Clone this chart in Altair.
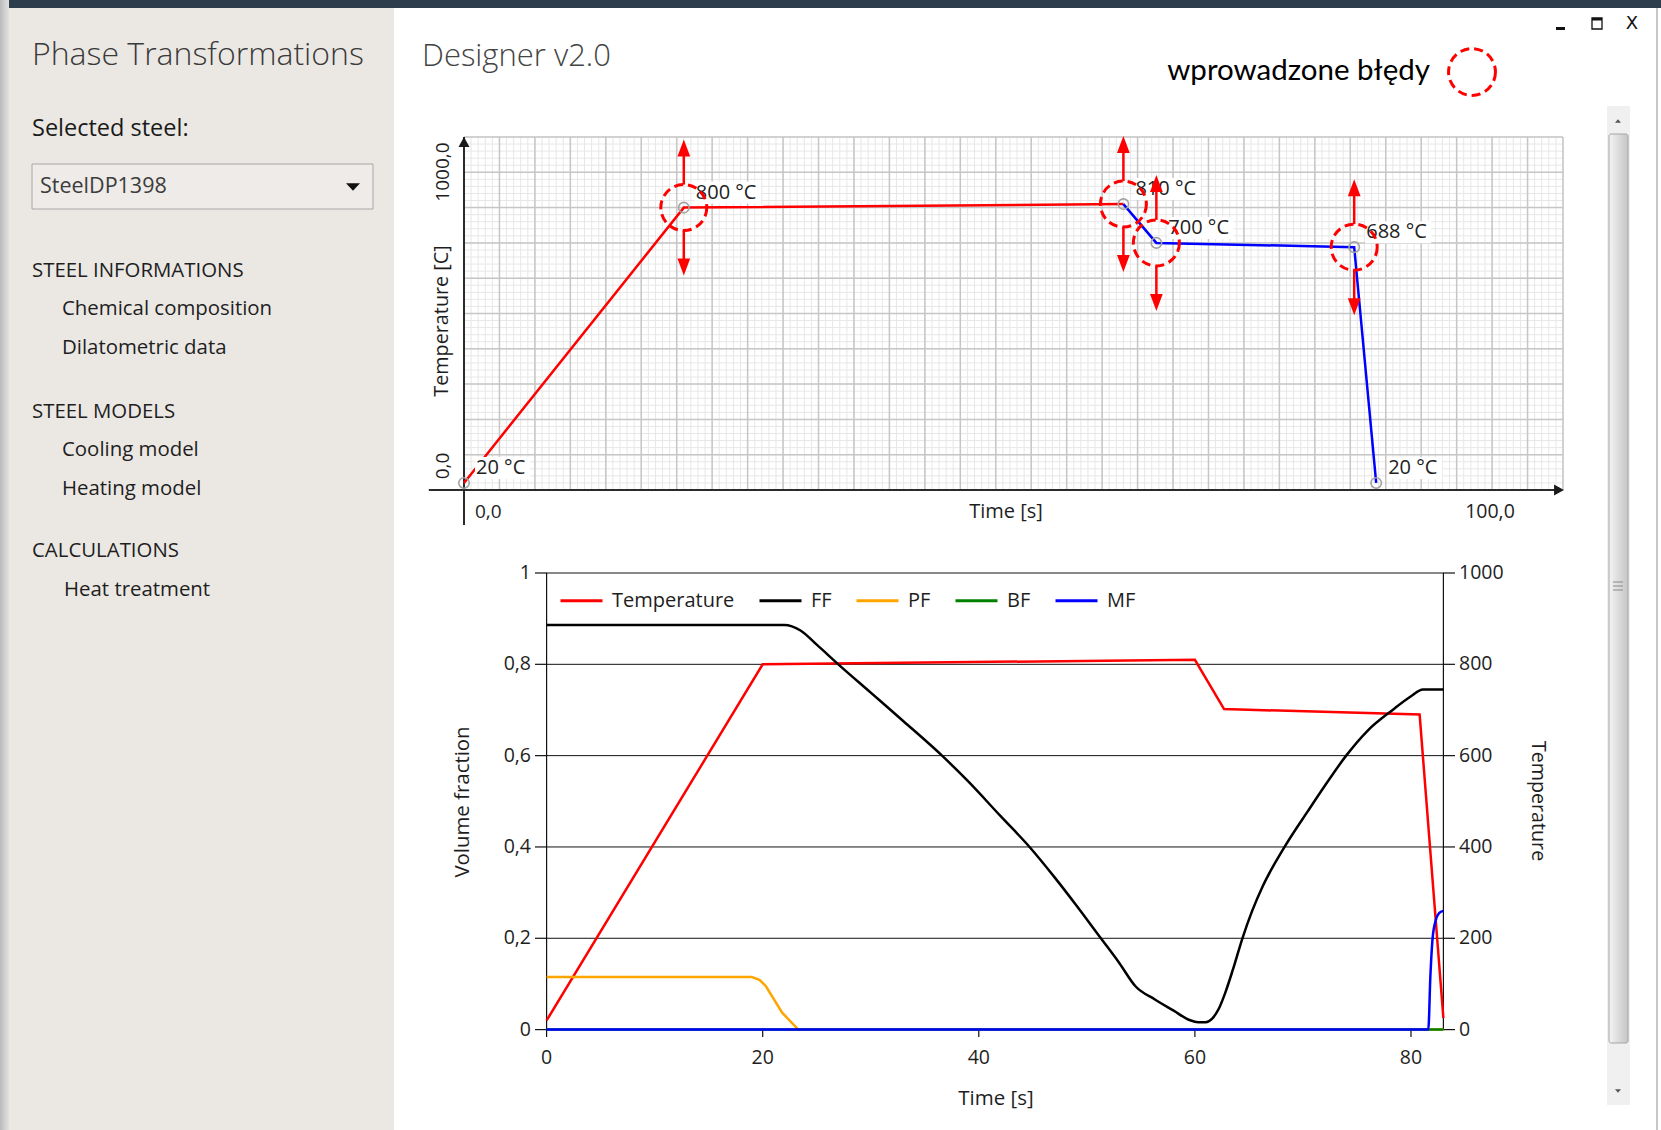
import altair as alt
import pandas as pd

FONT = "Open Sans"
INK = "#1e1e1e"

# ----------------------------------------------------------------- data ----
# Designer chart: heat-treatment schedule nodes (time [s], temperature [C])
sched_time = [0, 20, 60, 63, 81, 83]
sched_temp = [20, 800, 810, 700, 688, 20]
sched_labels = ["20 °C", "800 °C", "810 °C", "700 °C", "688 °C", "20 °C"]
heating_nodes = [0, 1, 2]        # red part of the schedule
cooling_nodes = [2, 3, 4, 5]     # blue part of the schedule
error_nodes = [1, 2, 3, 4]       # nodes marked as introduced errors

# Results chart: temperature (right axis)
temp_time = [0, 20, 60, 62.7, 80.8, 83.0]
temp_value = [20, 800, 810, 702, 690, 25]

# Results chart: volume fractions (left axis)
ff_time = [0, 22.0, 23.5, 25.0, 27.0, 30.0, 33.0, 36.6, 39.0, 42.0, 44.7,
           47.0, 49.0, 51.3, 53.0, 54.5, 56.3, 58.0, 59.5, 60.3, 61.0, 61.6,
           62.2, 62.8, 63.5, 64.4, 65.3, 66.3, 68.3, 70.5, 72.2, 74.0, 76.0,
           78.3, 80.0, 81.1, 83.0]
ff_value = [0.886, 0.886, 0.874, 0.843, 0.800, 0.738, 0.676, 0.600, 0.544,
            0.468, 0.400, 0.334, 0.273, 0.200, 0.146, 0.095, 0.066, 0.042,
            0.021, 0.016, 0.016, 0.024, 0.045, 0.080, 0.130, 0.200, 0.260,
            0.315, 0.400, 0.480, 0.540, 0.600, 0.655, 0.700, 0.730, 0.745,
            0.745]
pf_time = [0, 19.0, 19.7, 20.3, 21.8, 23.3, 83.0]
pf_value = [0.115, 0.115, 0.109, 0.095, 0.037, 0.0, 0.0]
bf_time = [0, 83.0]
bf_value = [0.0, 0.0]
mf_time = [0, 81.6, 81.8, 82.0, 82.3, 82.6, 83.0]
mf_value = [0.0, 0.0, 0.12, 0.20, 0.24, 0.255, 0.26]

series_names = ["Temperature", "FF", "PF", "BF", "MF"]
series_colors = ["#ff0000", "#000000", "#ffa500", "#008000", "#0000ff"]

# tick values / labels of the results chart
frac_ticks = [0, 0.2, 0.4, 0.6, 0.8, 1.0]
frac_tick_labels = ["0", "0,2", "0,4", "0,6", "0,8", "1"]
temp_ticks = [0, 200, 400, 600, 800, 1000]
temp_tick_labels = ["0", "200", "400", "600", "800", "1000"]
time_ticks = [0, 20, 40, 60, 80]
time_tick_labels = ["0", "20", "40", "60", "80"]

# sidebar texts
sidebar_sections = ["STEEL INFORMATIONS", "STEEL MODELS", "CALCULATIONS"]
sidebar_items = [["Chemical composition", "Dilatometric data"],
                 ["Cooling model", "Heating model"],
                 ["Heat treatment"]]

# ---------------------------------------------------------------- scales ---
top_x = alt.Scale(domain=[0, 100], range=[464, 1563], nice=False, zero=False)
top_y = alt.Scale(domain=[0, 1000], range=[490, 137], nice=False, zero=False)
bot_x = alt.Scale(domain=[0, 83], range=[546.6, 1443.4], nice=False, zero=False)
bot_yf = alt.Scale(domain=[0, 1], range=[1029.6, 573], nice=False, zero=False)
bot_yt = alt.Scale(domain=[0, 1000], range=[1029.6, 573], nice=False, zero=False)
color_scale = alt.Scale(domain=series_names, range=series_colors)


def X(f, s):
    return alt.X(f, type="quantitative", scale=s, axis=None)


def Y(f, s):
    return alt.Y(f, type="quantitative", scale=s, axis=None)


DUMMY = alt.Data(values=[{"k": 0}])


def label(text, x, y, size=19, color=INK, align="left", angle=0,
          weight="normal", font=FONT):
    props = dict(text=text, align=align, baseline="middle", fontSize=size,
                 color=color, font=font, fontWeight=weight)
    if angle:
        props["angle"] = angle
    return alt.Chart(DUMMY).mark_text(**props).encode(
        x=alt.value(x), y=alt.value(y))


def box(x1, y1, x2, y2, fill="transparent", stroke=None, sw=1.0, radius=0):
    props = dict(fill=fill)
    if stroke:
        props.update(stroke=stroke, strokeWidth=sw)
    if radius:
        props["cornerRadius"] = radius
    return alt.Chart(DUMMY).mark_rect(**props).encode(
        x=alt.value(x1), x2=alt.value(x2), y=alt.value(y1), y2=alt.value(y2))


def seg(x1, y1, x2, y2, color, sw=1.0):
    return alt.Chart(DUMMY).mark_rule(color=color, strokeWidth=sw).encode(
        x=alt.value(x1), x2=alt.value(x2), y=alt.value(y1), y2=alt.value(y2))


def glyph(shape, x, y, size, color):
    return alt.Chart(DUMMY).mark_point(shape=shape, size=size, filled=True,
                                       color=color, opacity=1,
                                       strokeWidth=0).encode(
        x=alt.value(x), y=alt.value(y))


def hgrad(stops):
    return alt.LinearGradient(
        gradient="linear", x1=0, x2=1, y1=0, y2=0,
        stops=[alt.GradientStop(color=c, offset=o) for o, c in stops])


layers = []

# ------------------------------------------------------------ window chrome
layers.append(box(0, 0, 1661, 8, fill="#2e3d4c"))
layers.append(box(9, 8, 394, 1130, fill="#ebe8e4"))
layers.append(box(0, 0, 9, 1130, fill=hgrad([(0, "#b9b9b9"), (0.5, "#cfcfcf"),
                                               (1, "#e0e0e0")])))
layers.append(seg(1657, 8, 1657, 1130, "#b4b4b4", 1.5))
# window buttons
layers.append(box(1556, 27, 1565, 30, fill="#111111"))
layers.append(box(1592, 18, 1602, 29, stroke="#111111", sw=1.3))
layers.append(box(1592, 18, 1602, 20.5, fill="#111111"))
layers.append(label("X", 1632, 24, size=18, color="#111111", align="center",
                    font="DejaVu Sans"))
# scrollbar
layers.append(box(1607, 106, 1630, 1105, fill="#f0f0f0"))
layers.append(box(1609, 134, 1628, 1043,
                  fill=hgrad([(0, "#f4f4f4"), (0.45, "#dedede"),
                              (1, "#c6c6c6")]),
                  stroke="#a4a4a4", sw=1, radius=2))
for gy in (582, 586, 590):
    layers.append(seg(1613, gy, 1623, gy, "#8a8a8a", 1))
layers.append(glyph("M0,-0.6L1,0.6L-1,0.6Z", 1618, 121, 36, "#555555"))
layers.append(glyph("M0,0.6L1,-0.6L-1,-0.6Z", 1618, 1091, 36, "#555555"))

# ---------------------------------------------------------------- sidebar --
layers.append(label("Phase Transformations", 32, 55, size=32, weight=300,
                    color="#3a3a3a"))
layers.append(label("Selected steel:", 32, 129, size=23.5, color="#1a1a1a",
                    weight=500))
layers.append(box(32, 164, 373, 209, fill="#eeebe8", stroke="#a8a8a8", sw=1))
layers.append(label("SteelDP1398", 40, 187, size=21.5, color="#3c3c3c"))
layers.append(glyph("M-1,-0.55L1,-0.55L0,0.55Z", 353, 187, 196, "#111111"))

section_y = [271, 412, 551]
item_y = [[309, 348], [450, 489], [590]]
item_x = [[62, 62], [62, 62], [64]]
for sec, sy, items, iys, ixs in zip(sidebar_sections, section_y,
                                    sidebar_items, item_y, item_x):
    layers.append(label(sec, 32, sy, size=20.4))
    for it, iy, ix in zip(items, iys, ixs):
        layers.append(label(it, ix, iy, size=20.4))

# ----------------------------------------------------------------- header --
layers.append(label("Designer v2.0", 422, 57, size=31, weight=300,
                    color="#444444"))
layers.append(label("wprowadzone błędy", 1430, 71, size=29.5, color="#000000",
                    align="right", font="Lato", weight=400))
layers.append(alt.Chart(DUMMY).mark_point(
    shape="circle", size=2200, filled=False, color="#ff0000", strokeWidth=3,
    strokeDash=[9, 5], opacity=1).encode(x=alt.value(1472), y=alt.value(72)))

# ------------------------------------------------------- designer chart ----
n_major = 31
gx_major = [100 * k / n_major for k in range(n_major + 1)]
gx_minor = [100 * k / (n_major * 5) for k in range(n_major * 5 + 1)]
gy_major = list(range(0, 1001, 100))
gy_minor = list(range(0, 1001, 20))

for gxs, gys, col, sw in ((gx_minor, gy_minor, "#e7e7e7", 1.0),
                          (gx_major, gy_major, "#c6c6c6", 1.5)):
    vdf = pd.DataFrame({"gx": gxs, "lo": 0, "hi": 1000})
    hdf = pd.DataFrame({"gy": gys, "lo": 0, "hi": 100})
    layers.append(alt.Chart(vdf).mark_rule(color=col, strokeWidth=sw).encode(
        x=X("gx", top_x), y=Y("lo", top_y), y2="hi"))
    layers.append(alt.Chart(hdf).mark_rule(color=col, strokeWidth=sw).encode(
        y=Y("gy", top_y), x=X("lo", top_x), x2="hi"))

# axes with arrows
axy = pd.DataFrame({"t": [0], "lo": [-99], "hi": [1000]})
axx = pd.DataFrame({"T": [0], "lo": [-3.2], "hi": [99.6]})
layers.append(alt.Chart(axy).mark_rule(color="#2a2a2a", strokeWidth=2).encode(
    x=X("t", top_x), y=Y("lo", top_y), y2="hi"))
layers.append(alt.Chart(axx).mark_rule(color="#2a2a2a", strokeWidth=2).encode(
    y=Y("T", top_y), x=X("lo", top_x), x2="hi"))
tip = pd.DataFrame({"t": [0], "T": [1000]})
layers.append(alt.Chart(tip).mark_point(
    shape="M0,-0.9L1,0.9L-1,0.9Z", size=121, filled=True, color="#1a1a1a",
    opacity=1, strokeWidth=0, yOffset=5).encode(x=X("t", top_x),
                                                 y=Y("T", top_y)))
tipx = pd.DataFrame({"t": [100], "T": [0]})
layers.append(alt.Chart(tipx).mark_point(
    shape="M0.9,0L-0.9,1L-0.9,-1Z", size=121, filled=True, color="#1a1a1a",
    opacity=1, strokeWidth=0, xOffset=-4).encode(x=X("t", top_x),
                                                  y=Y("T", top_y)))

layers.append(label("1000,0", 443, 172, size=19, angle=270, align="center"))
layers.append(label("0,0", 443, 466, size=19, angle=270, align="center"))
layers.append(label("Temperature [C]", 442, 321, size=19.8, angle=270,
                    align="center"))
layers.append(label("0,0", 475, 512, size=19))
layers.append(label("Time [s]", 1006, 512, size=20, align="center"))
layers.append(label("100,0", 1490, 512, size=19.5, align="center"))

sched = pd.DataFrame({"t": sched_time, "T": sched_temp, "label": sched_labels})
heat = sched.iloc[heating_nodes]
cool = sched.iloc[cooling_nodes]
err = sched.iloc[error_nodes]

layers.append(alt.Chart(heat).mark_line(color="#ff0000", strokeWidth=2.5)
              .encode(x=X("t", top_x), y=Y("T", top_y)))
layers.append(alt.Chart(cool).mark_line(color="#0000ff", strokeWidth=2.5)
              .encode(x=X("t", top_x), y=Y("T", top_y)))
layers.append(alt.Chart(sched).mark_point(
    shape="circle", size=110, filled=False, color="#a3a3a3", strokeWidth=1.6,
    opacity=1).encode(x=X("t", top_x), y=Y("T", top_y)))

short = sched[sched["label"].str.len() <= 5]
wide = sched[sched["label"].str.len() > 5]
for df, w in ((short, 66), (wide, 77)):
    layers.append(alt.Chart(df).mark_rect(
        fill="white", xOffset=11, x2Offset=w, yOffset=-26, y2Offset=-4)
        .encode(x=X("t", top_x), x2="t", y=Y("T", top_y), y2="T"))
layers.append(alt.Chart(sched).mark_text(
    align="left", baseline="middle", dx=12, dy=-15, fontSize=20, font=FONT,
    color="#222222").encode(x=X("t", top_x), y=Y("T", top_y), text="label"))

# introduced errors: dashed circles + double arrows
layers.append(alt.Chart(err).mark_point(
    shape="circle", size=2116, filled=False, color="#ff0000", strokeWidth=3,
    strokeDash=[9, 5], opacity=1).encode(x=X("t", top_x), y=Y("T", top_y)))
for sgn in (-1, 1):
    layers.append(alt.Chart(err).mark_rule(
        color="#ff0000", strokeWidth=2.5, yOffset=23 * sgn, y2Offset=52 * sgn)
        .encode(x=X("t", top_x), y=Y("T", top_y), y2="T"))
    shape = "M0,-1L0.75,1L-0.75,1Z" if sgn < 0 else "M0,1L0.75,-1L-0.75,-1Z"
    layers.append(alt.Chart(err).mark_point(
        shape=shape, size=289, filled=True, color="#ff0000", opacity=1,
        strokeWidth=0, yOffset=59.5 * sgn)
        .encode(x=X("t", top_x), y=Y("T", top_y)))

# -------------------------------------------------------- results chart ----
fr = pd.DataFrame({"v": frac_ticks, "lab": frac_tick_labels, "lo": 0,
                   "hi": 83})
tp = pd.DataFrame({"v": temp_ticks, "lab": temp_tick_labels})
tm = pd.DataFrame({"t": time_ticks, "lab": time_tick_labels})

layers.append(alt.Chart(fr).mark_rule(color="#111111", strokeWidth=1).encode(
    y=Y("v", bot_yf), x=X("lo", bot_x), x2="hi"))
ax_v = pd.DataFrame({"t": [0, 83], "lo": [0, 0], "hi": [1, 1]})
layers.append(alt.Chart(ax_v).mark_rule(color="#111111", strokeWidth=1.2)
              .encode(x=X("t", bot_x), y=Y("lo", bot_yf), y2="hi"))
layers.append(alt.Chart(fr).mark_rule(color="#111111", strokeWidth=1.2).encode(
    y=Y("v", bot_yf), x=alt.value(535), x2=alt.value(547)))
layers.append(alt.Chart(tp).mark_rule(color="#111111", strokeWidth=1.2).encode(
    y=Y("v", bot_yt), x=alt.value(1443), x2=alt.value(1455)))
layers.append(alt.Chart(tm).mark_rule(color="#111111", strokeWidth=1.2).encode(
    x=X("t", bot_x), y=alt.value(1030), y2=alt.value(1037)))
layers.append(alt.Chart(fr).mark_text(
    align="right", baseline="middle", fontSize=19.5, font=FONT, color=INK)
    .encode(y=Y("v", bot_yf), x=alt.value(531), text="lab"))
layers.append(alt.Chart(tp).mark_text(
    align="left", baseline="middle", fontSize=19.5, font=FONT, color=INK)
    .encode(y=Y("v", bot_yt), x=alt.value(1459), text="lab"))
layers.append(alt.Chart(tm).mark_text(
    align="center", baseline="middle", fontSize=19.5, font=FONT, color=INK)
    .encode(x=X("t", bot_x), y=alt.value(1058), text="lab"))

layers.append(label("Volume fraction", 463, 802, size=20.4, angle=270,
                    align="center"))
layers.append(label("Temperature", 1538, 801, size=19.7, angle=90,
                    align="center"))
layers.append(label("Time [s]", 996, 1099, size=20.5, align="center"))

legend = alt.Legend(orient="none", legendX=559, legendY=578,
                    direction="horizontal", title=None, symbolType="stroke",
                    symbolSize=1764, symbolStrokeWidth=3, labelFontSize=20,
                    labelFont=FONT, labelColor=INK, labelOffset=8,
                    columnPadding=18, padding=0)
color_enc = alt.Color("series:N", scale=color_scale, legend=legend)

temp_df = pd.DataFrame({"t": temp_time, "v": temp_value,
                        "series": "Temperature"})
layers.append(alt.Chart(temp_df).mark_line(strokeWidth=2.5).encode(
    x=X("t", bot_x), y=Y("v", bot_yt), color=color_enc))
for name, ts, vs, interp in (("FF", ff_time, ff_value, "monotone"),
                             ("PF", pf_time, pf_value, "linear"),
                             ("BF", bf_time, bf_value, "linear"),
                             ("MF", mf_time, mf_value, "monotone")):
    df = pd.DataFrame({"t": ts, "v": vs, "series": name})
    layers.append(alt.Chart(df).mark_line(strokeWidth=2.5,
                                          interpolate=interp).encode(
        x=X("t", bot_x), y=Y("v", bot_yf), color=color_enc))

chart = (
    alt.layer(*layers)
    .resolve_scale(x="independent", y="independent")
    .properties(width=1661, height=1130, padding=0,
                autosize=alt.AutoSizeParams(type="none"), background="white")
    .configure_view(stroke=None)
)

chart.save("out.html", embed_options={"renderer": "svg", "actions": False})
